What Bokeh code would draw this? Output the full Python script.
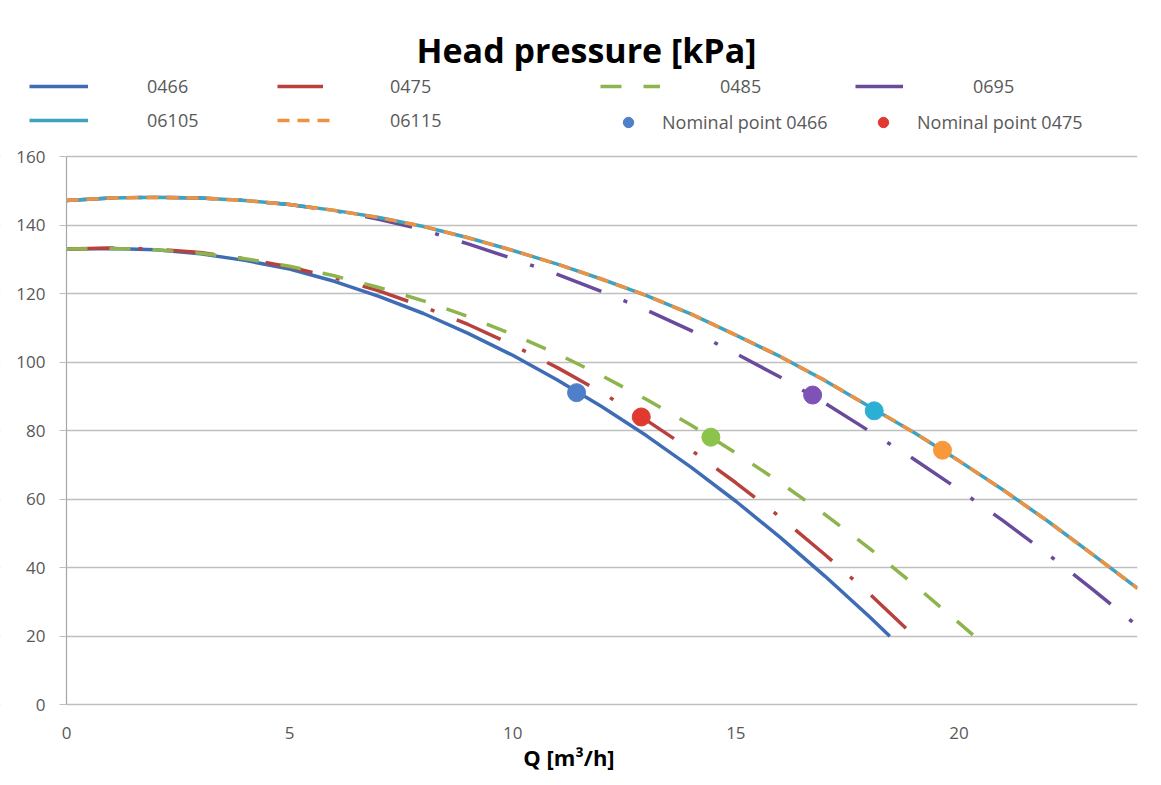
from bokeh.plotting import figure
from bokeh.models import (Legend, LegendItem, Label, FixedTicker, Range1d,
                          LinearAxis, BoxAnnotation)
from bokeh.embed import file_html
from bokeh.resources import INLINE

# ---- data ----
x_ticks = [0, 5, 10, 15, 20]
y_ticks = [0, 20, 40, 60, 80, 100, 120, 140, 160]

q_0466 = [0, 1, 2, 3, 4, 5, 6, 7, 8, 9, 10, 11, 12, 13, 14, 15, 16, 17, 18, 18.45]
h_0466 = [133.0, 133.2, 132.8, 131.6, 129.7, 127.2, 123.6, 119.2, 114.2, 108.4,
          102.0, 94.8, 87.0, 78.5, 69.3, 59.4, 48.8, 37.5, 25.6, 20.0]

q_0475 = [0, 1, 2, 3, 4, 5, 6, 7, 8, 9, 10, 11, 12, 13, 14, 15, 16, 17, 18, 19]
h_0475 = [133.0, 133.3, 133.0, 132.0, 130.2, 127.8, 124.6, 120.8, 116.2, 111.0,
          105.0, 98.4, 91.1, 83.0, 74.3, 64.8, 54.7, 43.8, 32.3, 20.0]

q_0485 = [0, 1, 2, 3, 4, 5, 6, 7, 8, 9, 10, 11, 12, 13, 14, 15, 16, 17, 18, 19, 20, 20.35]
h_0485 = [133.0, 133.2, 132.8, 131.8, 130.2, 128.0, 125.2, 121.8, 117.9, 113.3,
          108.1, 102.4, 96.0, 89.1, 81.6, 73.5, 64.8, 55.5, 45.6, 35.0, 23.9, 20.0]

q_0695 = [0, 1, 2, 3, 4, 5, 6, 7, 8, 9, 10, 11, 12, 13, 14, 15, 16, 17, 18, 19, 20, 21, 22, 23, 24]
h_0695 = [147.2, 147.9, 148.1, 147.9, 147.2, 146.0, 144.2, 141.7, 138.6, 134.5,
          130.2, 125.6, 120.6, 115.2, 109.2, 102.5, 95.6, 88.0, 79.8, 71.6,
          62.8, 53.6, 43.9, 33.6, 23.0]

q_06105 = [0, 1, 2, 3, 4, 5, 6, 7, 8, 9, 10, 11, 12, 13, 14, 15, 16, 17, 18, 19, 20, 21, 22, 23, 24]
h_06105 = [147.2, 147.9, 148.1, 147.9, 147.2, 146.0, 144.3, 142.2, 139.6, 136.3,
           132.6, 128.6, 124.2, 119.4, 114.0, 107.9, 101.6, 94.6, 87.0, 79.4,
           71.2, 62.6, 53.5, 43.8, 34.0]

q_06115 = [0, 1, 2, 3, 4, 5, 6, 7, 8, 9, 10, 11, 12, 13, 14, 15, 16, 17, 18, 19, 20, 21, 22, 23, 24]
h_06115 = [147.2, 147.9, 148.1, 147.9, 147.2, 146.0, 144.3, 142.2, 139.6, 136.3,
           132.6, 128.6, 124.2, 119.4, 114.0, 107.9, 101.6, 94.6, 87.0, 79.4,
           71.2, 62.6, 53.5, 43.8, 34.0]

nominal_names = ["0466", "0475", "0485", "0695", "06105", "06115"]
nominal_q = [11.43, 12.88, 14.44, 16.72, 18.10, 19.63]
nominal_h = [91.1, 84.0, 78.1, 90.4, 85.8, 74.3]

# ---- styling ----
FONT = "Open Sans"
GRAY = "#595959"
line_colors = {"0466": "#3E6DB5", "0475": "#B8413E", "0485": "#8DB44D",
               "0695": "#6A4A9A", "06105": "#3FA3C0", "06115": "#EE9140"}
point_colors = ["#4F7FC8", "#E03A30", "#8CC34B", "#7F52B8", "#2BB0D4", "#F7983A"]

# The frame spans the whole chart area, so that the title and legend drawn
# above the gridded region are not clipped.
p = figure(width=1155, height=780, output_backend="svg", toolbar_location=None,
           x_range=Range1d(-1.479, 24), y_range=Range1d(-4.0, 205.55),
           min_border_left=0, min_border_right=18, min_border_top=0,
           min_border_bottom=62, y_axis_location=None)
p.outline_line_color = None
p.background_fill_color = "white"
p.border_fill_color = "white"

p.xgrid.visible = False
p.ygrid.ticker = FixedTicker(ticks=y_ticks)
p.ygrid.grid_line_color = "#BFBFBF"
p.ygrid.grid_line_width = 1.3

# white cover for the grid left of Q = 0 (where the y tick labels sit)
p.add_layout(BoxAnnotation(right=0, fill_color="white", fill_alpha=1.0,
                           line_color=None, level="underlay"))

yaxis = LinearAxis(fixed_location=0, bounds=(0, 160),
                   ticker=FixedTicker(ticks=y_ticks))
p.add_layout(yaxis, "left")

xaxis = p.xaxis[0]
xaxis.ticker = FixedTicker(ticks=x_ticks)
xaxis.axis_line_color = None
xaxis.major_tick_line_color = None
xaxis.major_tick_out = 0
xaxis.major_tick_in = 0
xaxis.axis_label = "Q [m³/h]"
xaxis.axis_label_text_font = FONT
xaxis.axis_label_text_font_size = "22px"
xaxis.axis_label_text_font_style = "bold"
xaxis.axis_label_text_color = "black"
xaxis.axis_label_standoff = 0
xaxis.major_label_standoff = 8

yaxis.axis_line_color = "#A6A6A6"
yaxis.axis_line_width = 1.2
yaxis.major_tick_in = 0
yaxis.major_tick_out = 7
yaxis.major_tick_line_color = "#BFBFBF"
yaxis.major_label_standoff = 14

for ax in (xaxis, yaxis):
    ax.minor_tick_line_color = None
    ax.major_label_text_font = FONT
    ax.major_label_text_font_size = "17px"
    ax.major_label_text_color = GRAY

W = 3.5
r_0466 = p.line(q_0466, h_0466, line_color=line_colors["0466"], line_width=W)
r_0475 = p.line(q_0475, h_0475, line_color=line_colors["0475"], line_width=W,
                line_dash="48 24 4 24")
r_0485 = p.line(q_0485, h_0485, line_color=line_colors["0485"], line_width=W,
                line_dash="21 22")
r_0695 = p.line(q_0695, h_0695, line_color=line_colors["0695"], line_width=W,
                line_dash="48 24 4 24")
r_06105 = p.line(q_06105, h_06105, line_color=line_colors["06105"], line_width=W)
r_06115 = p.line(q_06115, h_06115, line_color=line_colors["06115"], line_width=W,
                 line_dash="12 8")

pts = []
for i in range(len(nominal_q)):
    r = p.scatter([nominal_q[i]], [nominal_h[i]], size=18, marker="circle",
                  fill_color=point_colors[i], line_color=point_colors[i])
    pts.append(r)


def add_leg(label, renderer, x, y, gw, gh, standoff):
    leg = Legend(items=[LegendItem(label=label, renderers=[renderer])],
                 location=(x, y), glyph_width=gw, glyph_height=gh,
                 label_standoff=standoff, label_height=gh, margin=0, padding=0,
                 spacing=0, border_line_color=None, background_fill_alpha=0,
                 label_text_font=FONT, label_text_font_size="18px",
                 label_text_color=GRAY)
    p.add_layout(leg)


# legend rows (positions in px from the frame's bottom-left corner)
FB = 718  # frame bottom, page px
add_leg("0466", r_0466, 29, FB - 98, 59, 20, 59)
add_leg("0475", r_0475, 277, FB - 98, 46, 20, 67)
add_leg("0485", r_0485, 600, FB - 98, 60, 20, 60)
add_leg("0695", r_0695, 855, FB - 98, 48, 20, 70)
add_leg("06105", r_06105, 29, FB - 132, 59, 20, 59)
add_leg("06115", r_06115, 277, FB - 132, 56, 20, 57)
add_leg("Nominal point 0466", pts[0], 615, FB - 135, 26, 26, 21)
add_leg("Nominal point 0475", pts[1], 870, FB - 135, 26, 26, 21)

p.add_layout(Label(x=586, y=FB - 49, x_units="screen", y_units="screen",
                   text="Head pressure [kPa]", text_align="center",
                   text_baseline="alphabetic", text_font=FONT,
                   text_font_size="34px", text_font_style="bold",
                   text_color="black"))

open("out.html", "w").write(file_html(p, INLINE))
